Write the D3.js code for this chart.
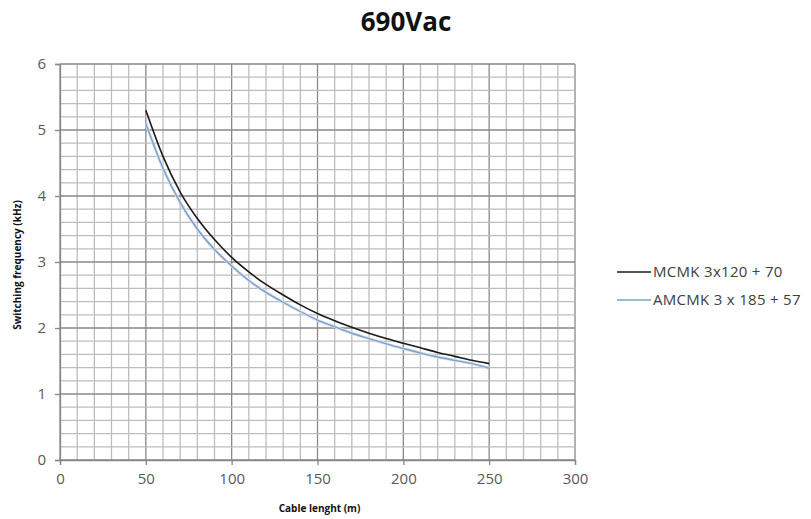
<!DOCTYPE html>
<html>
<head>
<meta charset="utf-8">
<script src="https://cdn.jsdelivr.net/npm/d3@7"></script>
<style>
  html, body { margin: 0; padding: 0; background: #fff; }
  svg { display: block; }
</style>
</head>
<body>
<svg id="chart" width="811" height="519"></svg>
<script>
const lengths = [50, 60, 70, 80, 90, 100, 110, 120, 130, 140, 150, 160, 170, 180, 190, 200, 210, 220, 230, 240, 250];
const mcmk = [5.30, 4.60, 4.06, 3.66, 3.34, 3.07, 2.85, 2.66, 2.50, 2.35, 2.22, 2.11, 2.01, 1.92, 1.84, 1.77, 1.70, 1.63, 1.57, 1.51, 1.46];
const amcmk = [5.10, 4.42, 3.90, 3.50, 3.19, 2.94, 2.72, 2.54, 2.39, 2.25, 2.12, 2.02, 1.92, 1.84, 1.76, 1.69, 1.62, 1.56, 1.51, 1.46, 1.39];
const seriesNames = ["MCMK 3x120 + 70", "AMCMK 3 x 185 + 57"];
const xTicks = [0, 50, 100, 150, 200, 250, 300];
const yTicks = [0, 1, 2, 3, 4, 5, 6];
const titleText = "690Vac";
const xTitle = "Cable lenght (m)";
const yTitle = "Switching frequency (kHz)";

(function () {
const svg = d3.select("#chart");
const pL = 60, pR = 575, pT = 64, pB = 460;
const x = d3.scaleLinear().domain([0, 300]).range([pL, pR]);
const y = d3.scaleLinear().domain([0, 6]).range([pB, pT]);
const font = "'Open Sans', 'Liberation Sans', sans-serif";

// grid
const g = svg.append("g");
g.selectAll("line.v").data(d3.range(0, 301, 10)).enter().append("line")
  .attr("x1", d => x(d)).attr("x2", d => x(d)).attr("y1", pT).attr("y2", pB)
  .attr("stroke", d => d % 50 === 0 ? "#888" : "#bdbdbd").attr("stroke-width", 1.3);
g.selectAll("line.h").data(d3.range(0, 31).map(i => i * 0.2)).enter().append("line")
  .attr("y1", d => y(d)).attr("y2", d => y(d)).attr("x1", pL).attr("x2", pR)
  .attr("stroke", (d, i) => i % 5 === 0 ? "#888" : "#bdbdbd").attr("stroke-width", 1.3);

// axes
const xAxis = d3.axisBottom(x).tickValues(xTicks).tickFormat(d3.format("d")).tickSize(5).tickPadding(8);
const yAxis = d3.axisLeft(y).tickValues(yTicks).tickFormat(d3.format("d")).tickSize(5).tickPadding(9);
const gx = svg.append("g").attr("transform", `translate(0,${pB})`).call(xAxis);
const gy = svg.append("g").attr("transform", `translate(${pL},0)`).call(yAxis);
[gx, gy].forEach(a => {
  a.select(".domain").attr("stroke", "#888").attr("stroke-width", 1.3);
  a.selectAll(".tick line").attr("stroke", "#888").attr("stroke-width", 1.3);
  a.selectAll(".tick text").attr("fill", "#595959").style("font-family", font).style("font-size", "15px");
});

// lines
const line = d3.line().x(d => x(d[0])).y(d => y(d[1])).curve(d3.curveMonotoneX);
const colors = ["#1a1a1a", "#7d9fca"];
const data = [mcmk, amcmk].map(vals => lengths.map((l, i) => [l, vals[i]]));
svg.append("path").datum(data[1]).attr("d", line).attr("fill", "none")
  .attr("stroke", "#d5e1f0").attr("stroke-width", 3);
data.forEach((d, i) => {
  svg.append("path").datum(d).attr("d", line).attr("fill", "none")
    .attr("stroke", colors[i]).attr("stroke-width", i === 0 ? 1.6 : 1.4);
});

// titles
svg.append("text").attr("x", 406).attr("y", 31).attr("text-anchor", "middle")
  .style("font-family", font).style("font-weight", "bold").style("font-size", "26px")
  .attr("fill", "#111").text(titleText);
svg.append("text").attr("x", (pL + pR) / 2 + 2).attr("y", 512).attr("text-anchor", "middle")
  .style("font-family", font).style("font-weight", "bold").style("font-size", "10px")
  .attr("fill", "#111").text(xTitle);
svg.append("text").attr("transform", `translate(21,${(pT + pB) / 2 + 3}) rotate(-90)`)
  .attr("text-anchor", "middle")
  .style("font-family", font).style("font-weight", "bold").style("font-size", "10px")
  .attr("fill", "#111").text(yTitle);

// legend
const legY = [272, 300];
seriesNames.forEach((n, i) => {
  svg.append("line").attr("x1", 617).attr("x2", 651).attr("y1", legY[i]).attr("y2", legY[i])
    .attr("stroke", colors[i]).attr("stroke-width", 1.5);
  svg.append("text").attr("x", 653).attr("y", legY[i] + 5)
    .style("font-family", font).style("font-size", "15px").style("letter-spacing", "0.3px")
    .attr("fill", "#404040").text(n);
});
})();
</script>
</body>
</html>
